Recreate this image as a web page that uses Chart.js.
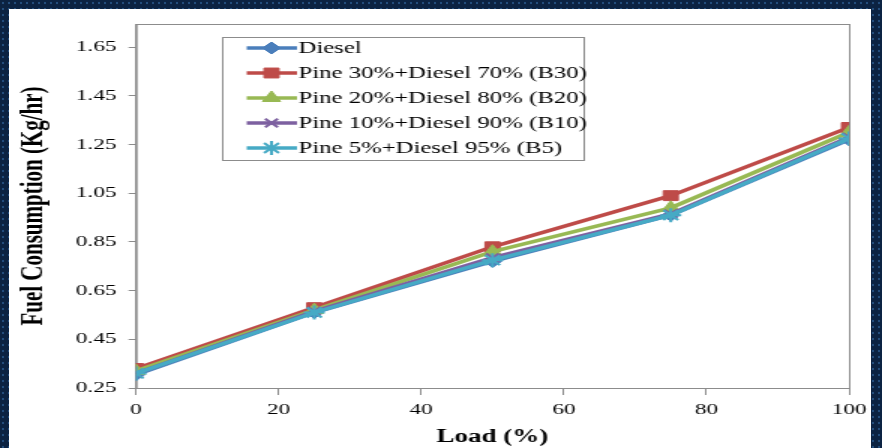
<!DOCTYPE html>
<html>
<head>
<meta charset="utf-8">
<script src="https://cdn.jsdelivr.net/npm/chart.js@4.4.0/dist/chart.umd.min.js"></script>
<style>
  html, body { margin: 0; padding: 0; }
  body {
    width: 882px; height: 448px; overflow: hidden; position: relative;
    background-color: #0c2342;
    background-image: radial-gradient(circle, #234d7c 1px, rgba(0,0,0,0) 1.6px);
    background-size: 6px 6px;
  }
  #paper { position: absolute; left: 9px; top: 9px; width: 862px; height: 445px; background: #ffffff; }
  #wrap { position: absolute; left: 0; top: 0; width: 588px; height: 448px; transform-origin: 0 0; transform: scaleX(1.5); }
</style>
</head>
<body>
<div id="paper"></div>
<div id="wrap"><canvas id="c"></canvas></div>
<script>
const loads = [0, 25, 50, 75, 100];
const seriesNames = ['Diesel', 'Pine 30%+Diesel 70% (B30)', 'Pine 20%+Diesel 80% (B20)', 'Pine 10%+Diesel 90% (B10)', 'Pine 5%+Diesel 95% (B5)'];
const diesel = [0.305, 0.56, 0.77, 0.96, 1.27];
const b30 = [0.33, 0.58, 0.83, 1.04, 1.32];
const b20 = [0.32, 0.57, 0.81, 0.99, 1.30];
const b10 = [0.31, 0.565, 0.785, 0.965, 1.28];
const b5 = [0.31, 0.56, 0.775, 0.96, 1.275];
const yTicks = [0.25, 0.45, 0.65, 0.85, 1.05, 1.25, 1.45, 1.65];
const xTicks = [0, 20, 40, 60, 80, 100];

const colors = ['#4a7ebb', '#be4b48', '#98b954', '#7d60a0', '#46aac5'];
const styles = ['rectRot', 'rect', 'triangle', 'crossRot', 'star'];
const radii = [6, 7, 7, 6, 7];
const values = [diesel, b30, b20, b10, b5];

const datasets = values.map((vals, i) => ({
  label: seriesNames[i],
  data: vals.map((v, k) => ({ x: loads[k], y: v })),
  borderColor: colors[i],
  backgroundColor: colors[i],
  borderWidth: 3.5,
  pointStyle: styles[i],
  pointRadius: radii[i],
  pointBorderWidth: (styles[i] === 'crossRot' || styles[i] === 'star') ? 2 : 1,
  order: 4 - i,
  tension: 0
}));

const serif = "'Liberation Serif', 'Times New Roman', serif";

const frame = {
  id: 'frame',
  beforeDatasetsDraw(chart) {
    const { ctx, chartArea: a } = chart;
    ctx.save();
    ctx.strokeStyle = '#8c8c8c';
    ctx.lineWidth = 1;
    ctx.strokeRect(a.left + 0.5, a.top + 0.5, a.right - a.left, a.bottom - a.top);
    ctx.restore();
  }
};

const boxLegend = {
  id: 'boxLegend',
  afterDraw(chart) {
    const ctx = chart.ctx;
    const bx = 148, by = 37, bw = 241, bh = 123;
    ctx.save();
    ctx.fillStyle = '#ffffff';
    ctx.fillRect(bx, by, bw, bh);
    ctx.strokeStyle = '#8c8c8c';
    ctx.lineWidth = 1;
    ctx.strokeRect(bx + 0.5, by + 0.5, bw, bh);
    const rows = [48, 73, 98, 123, 148];
    chart.data.datasets.forEach((ds, i) => {
      const y = rows[i];
      ctx.strokeStyle = ds.borderColor;
      ctx.lineWidth = 3.5;
      ctx.beginPath();
      ctx.moveTo(164.5, y);
      ctx.lineTo(198, y);
      ctx.stroke();
      ctx.fillStyle = ds.backgroundColor;
      ctx.strokeStyle = ds.borderColor;
      ctx.lineWidth = ds.pointBorderWidth;
      Chart.helpers.drawPoint(ctx, { pointStyle: ds.pointStyle, radius: ds.pointRadius, rotation: 0, borderWidth: ds.pointBorderWidth }, 181, y);
      ctx.fillStyle = '#000000';
      ctx.font = '16.5px ' + serif;
      ctx.textBaseline = 'middle';
      ctx.textAlign = 'left';
      ctx.fillText(ds.label, 199, y + 1);
    });
    ctx.restore();
  }
};

new Chart(document.getElementById('c'), {
  type: 'line',
  data: { datasets },
  options: {
    responsive: true,
    maintainAspectRatio: false,
    animation: false,
    layout: { padding: { top: 24, right: 22, left: 0, bottom: 0 } },
    plugins: { legend: { display: false }, tooltip: { enabled: false } },
    scales: {
      x: {
        type: 'linear', min: 0, max: 100,
        afterBuildTicks: s => { s.ticks = xTicks.map(v => ({ value: v })); },
        afterFit: s => { s.height = 60; },
        grid: { drawOnChartArea: false, drawTicks: true, tickLength: 7, color: '#8c8c8c' },
        border: { color: '#8c8c8c' },
        ticks: { color: '#000', font: { family: serif, size: 15.5 }, padding: 6, maxRotation: 0 },
        title: { display: true, text: 'Load (%)', color: '#000', font: { family: serif, size: 18, weight: 'bold' }, padding: { top: 0, bottom: 0 } }
      },
      y: {
        type: 'linear', min: 0.25, max: 1.745,
        afterBuildTicks: s => { s.ticks = yTicks.map(v => ({ value: v })); },
        afterFit: s => { s.width = 90.7; },
        grid: { drawOnChartArea: false, drawTicks: true, tickLength: 5, color: '#8c8c8c' },
        border: { color: '#8c8c8c' },
        ticks: { color: '#000', font: { family: serif, size: 15.5 }, padding: 8, callback: v => Number(v).toFixed(2) },
        title: { display: true, text: 'Fuel Consumption (Kg/hr)', color: '#000', font: { family: serif, size: 21, weight: 'bold' }, padding: { top: 10, bottom: 0 } }
      }
    }
  },
  plugins: [frame, boxLegend]
});
</script>
</body>
</html>
